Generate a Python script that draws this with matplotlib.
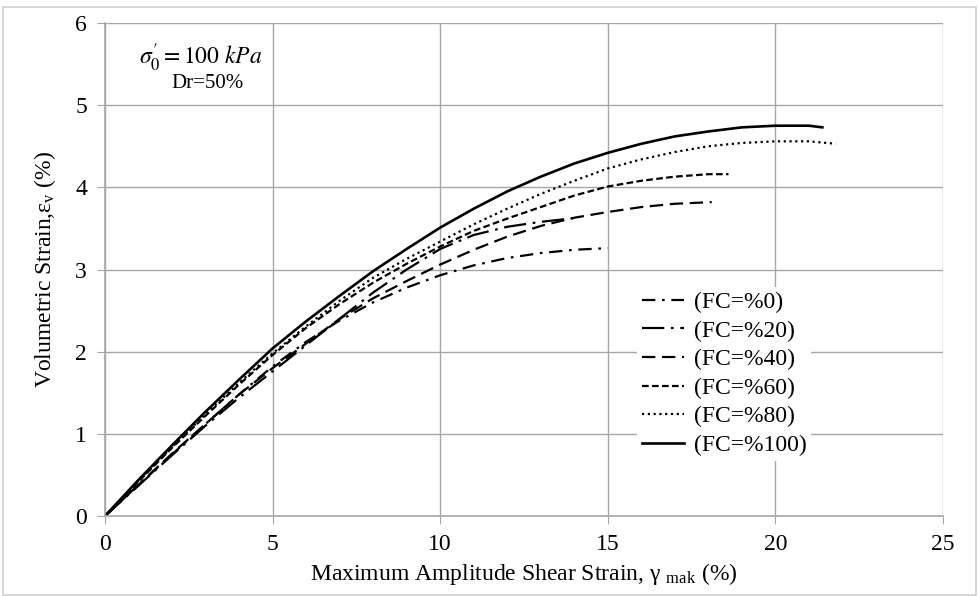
import matplotlib
matplotlib.use("Agg")
import matplotlib.pyplot as plt
from matplotlib.patches import Rectangle

plt.rcParams['font.family'] = ['Liberation Serif', 'DejaVu Serif']
plt.rcParams['mathtext.fontset'] = 'stix'

# data (shear strain %, volumetric strain %)
x_fc0 = [0, 1, 2, 3, 4, 5, 6, 7, 8, 9, 10, 11, 12, 13, 14, 15]
y_fc0 = [0, 0.38, 0.75, 1.12, 1.48, 1.82, 2.12, 2.38, 2.60, 2.78, 2.93, 3.05, 3.14, 3.20, 3.24, 3.26]

x_fc20 = [0, 1, 2, 3, 4, 5, 6, 7, 8, 9, 10, 11, 12, 13, 14.1]
y_fc20 = [0, 0.37, 0.74, 1.10, 1.44, 1.76, 2.08, 2.40, 2.72, 3.00, 3.25, 3.42, 3.52, 3.58, 3.63]

x_fc40 = [0, 1, 2, 3, 4, 5, 6, 7, 8, 9, 10, 11, 12, 13, 14, 15, 16, 17, 18.1]
y_fc40 = [0, 0.38, 0.76, 1.12, 1.48, 1.80, 2.10, 2.40, 2.65, 2.86, 3.06, 3.24, 3.40, 3.53, 3.63, 3.70, 3.76, 3.80, 3.82]

x_fc60 = [0, 1, 2, 3, 4, 5, 6, 7, 8, 9, 10, 11, 12, 13, 14, 15, 16, 17, 18, 18.6]
y_fc60 = [0, 0.42, 0.83, 1.22, 1.60, 1.96, 2.29, 2.58, 2.84, 3.07, 3.28, 3.47, 3.62, 3.76, 3.90, 4.01, 4.08, 4.13, 4.16, 4.16]

x_fc80 = [0, 1, 2, 3, 4, 5, 6, 7, 8, 9, 10, 11, 12, 13, 14, 15, 16, 17, 18, 19, 20, 21, 21.8]
y_fc80 = [0, 0.43, 0.84, 1.24, 1.62, 1.98, 2.31, 2.62, 2.90, 3.13, 3.34, 3.55, 3.74, 3.92, 4.08, 4.23, 4.34, 4.43, 4.50, 4.54, 4.56, 4.56, 4.53]

x_fc100 = [0, 1, 2, 3, 4, 5, 6, 7, 8, 9, 10, 11, 12, 13, 14, 15, 16, 17, 18, 19, 20, 21, 21.4]
y_fc100 = [0, 0.44, 0.86, 1.27, 1.66, 2.04, 2.37, 2.68, 2.98, 3.25, 3.51, 3.74, 3.95, 4.13, 4.29, 4.42, 4.53, 4.62, 4.68, 4.73, 4.75, 4.75, 4.73]

labels = ['(FC=%0)', '(FC=%20)', '(FC=%40)', '(FC=%60)', '(FC=%80)', '(FC=%100)']
x_ticks = [0, 5, 10, 15, 20, 25]
y_ticks = [0, 1, 2, 3, 4, 5, 6]

fig = plt.figure(figsize=(9.79, 5.96), dpi=100)
ax = fig.add_axes([105 / 979, 1 - 516 / 596, 838 / 979, 493 / 596])

grid_c = '#a6a6a6'
ax.plot(x_fc0, y_fc0, color='black', lw=1.6, dashes=(6, 3, 1.2, 3), label=labels[0])
ax.plot(x_fc20, y_fc20, color='black', lw=1.6, dashes=(10, 3, 1.2, 3), label=labels[1])
ax.plot(x_fc40, y_fc40, color='black', lw=1.6, dashes=(6, 3), label=labels[2])
ax.plot(x_fc60, y_fc60, color='black', lw=1.6, dashes=(3, 1.5), label=labels[3])
ax.plot(x_fc80, y_fc80, color='black', lw=1.6, dashes=(1, 1.6), label=labels[4])
ax.plot(x_fc100, y_fc100, color='black', lw=1.9, label=labels[5])

ax.set_xlim(0, 25)
ax.set_ylim(0, 6)
ax.set_xticks(x_ticks)
ax.set_yticks(y_ticks)
ax.grid(True, color=grid_c, lw=1)
ax.set_axisbelow(True)
for s in ['top', 'right']:
    ax.spines[s].set_visible(False)
for s in ['left', 'bottom']:
    ax.spines[s].set_color(grid_c)
    ax.spines[s].set_linewidth(1.2)
ax.tick_params(direction='out', length=6, color=grid_c, labelsize=17, pad=7)

ax.set_xlabel(r'Maximum Amplitude Shear Strain, γ $_{\mathregular{mak}}$ (%)', fontsize=17, labelpad=4)
ax.set_ylabel(r'Volumetric Strain,$\mathregular{ε_v}$ (%)', fontsize=17, labelpad=12)

leg = ax.legend(loc='upper left', bbox_to_anchor=(0.635, 0.465), fontsize=17,
                frameon=True, fancybox=False, framealpha=1, edgecolor='none',
                handlelength=1.8, handletextpad=0.4, labelspacing=0.3,
                borderpad=0.2, borderaxespad=0)

fig.text(201 / 979, 1 - 58 / 596, r'$\sigma_0^{\prime}=100\ kPa$', fontsize=17,
         ha='center', va='center')
fig.text(207 / 979, 1 - 84 / 596, 'Dr=50%', fontsize=15, ha='center', va='center')

# outer chart border
fig.patches.append(Rectangle((3 / 979, 1 / 596), 973 / 979, 588 / 596,
                             transform=fig.transFigure, fill=False,
                             edgecolor='#d0d0d0', lw=1.2))

fig.savefig('out.png', dpi=100)
